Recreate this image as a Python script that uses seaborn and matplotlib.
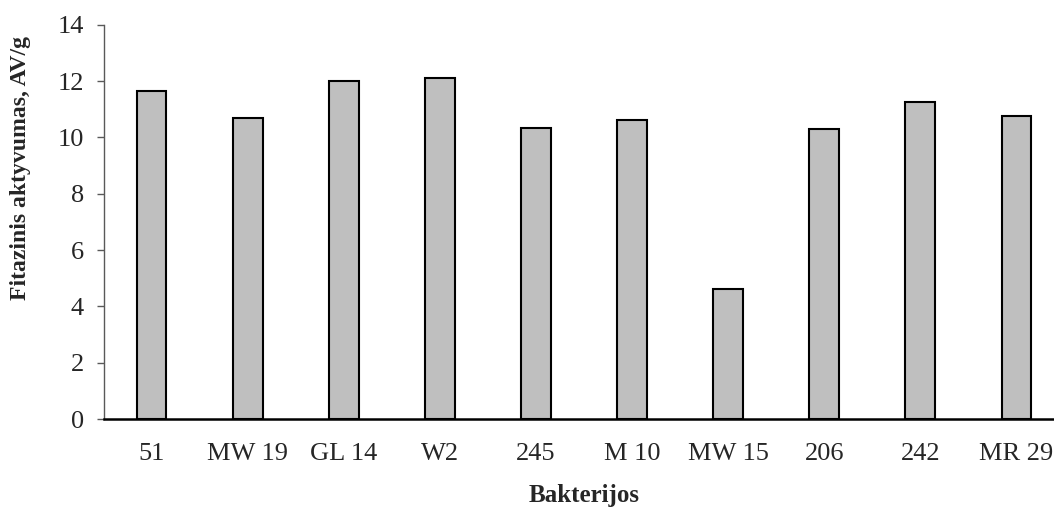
import matplotlib
matplotlib.use("Agg")
import matplotlib.pyplot as plt
import seaborn as sns
import pandas as pd

# Phytase activity per bacterial strain
strains = ["51", "MW 19", "GL 14", "W2", "245", "M 10", "MW 15", "206", "242", "MR 29"]
activity = [11.63, 10.67, 12.0, 12.11, 10.33, 10.62, 4.62, 10.30, 11.25, 10.77]
y_ticks = [0, 2, 4, 6, 8, 10, 12, 14]

df = pd.DataFrame({"strain": strains, "activity": activity})

sns.set_theme(style="white")
plt.rcParams["font.family"] = ["Liberation Serif", "DejaVu Serif"]

fig = plt.figure(figsize=(10.54, 5.11), dpi=100)
ax = fig.add_axes([103.5 / 1054, 92 / 511, 961 / 1054, 394.3 / 511])

sns.barplot(data=df, x="strain", y="activity", order=strains, color="#bfbfbf",
            width=0.31, edgecolor="black", linewidth=1.5, saturation=1, ax=ax)

ax.set_xlim(-0.5, 9.5)
ax.set_ylim(0, 14)
ax.set_yticks(y_ticks)
ax.set_yticklabels([str(t) for t in y_ticks])

for side in ("top", "right"):
    ax.spines[side].set_visible(False)
ax.spines["left"].set_color("#595959")
ax.spines["left"].set_linewidth(1.0)
ax.spines["bottom"].set_color("black")
ax.spines["bottom"].set_linewidth(1.8)

ax.tick_params(axis="y", left=True, length=5, width=1, color="#595959",
               labelsize=19, pad=9, direction="out")
ax.tick_params(axis="x", bottom=False, length=0, labelsize=19, pad=17)

ax.set_xlabel("Bakterijos", fontsize=18, fontweight="bold", labelpad=14)
ax.set_ylabel("Fitazinis aktyvumas, AV/g", fontsize=17, fontweight="bold")
ax.yaxis.set_label_coords((31 - 103.5) / 961, (511 - 168 - 92) / 394.3)

fig.savefig("out.png", dpi=100)
